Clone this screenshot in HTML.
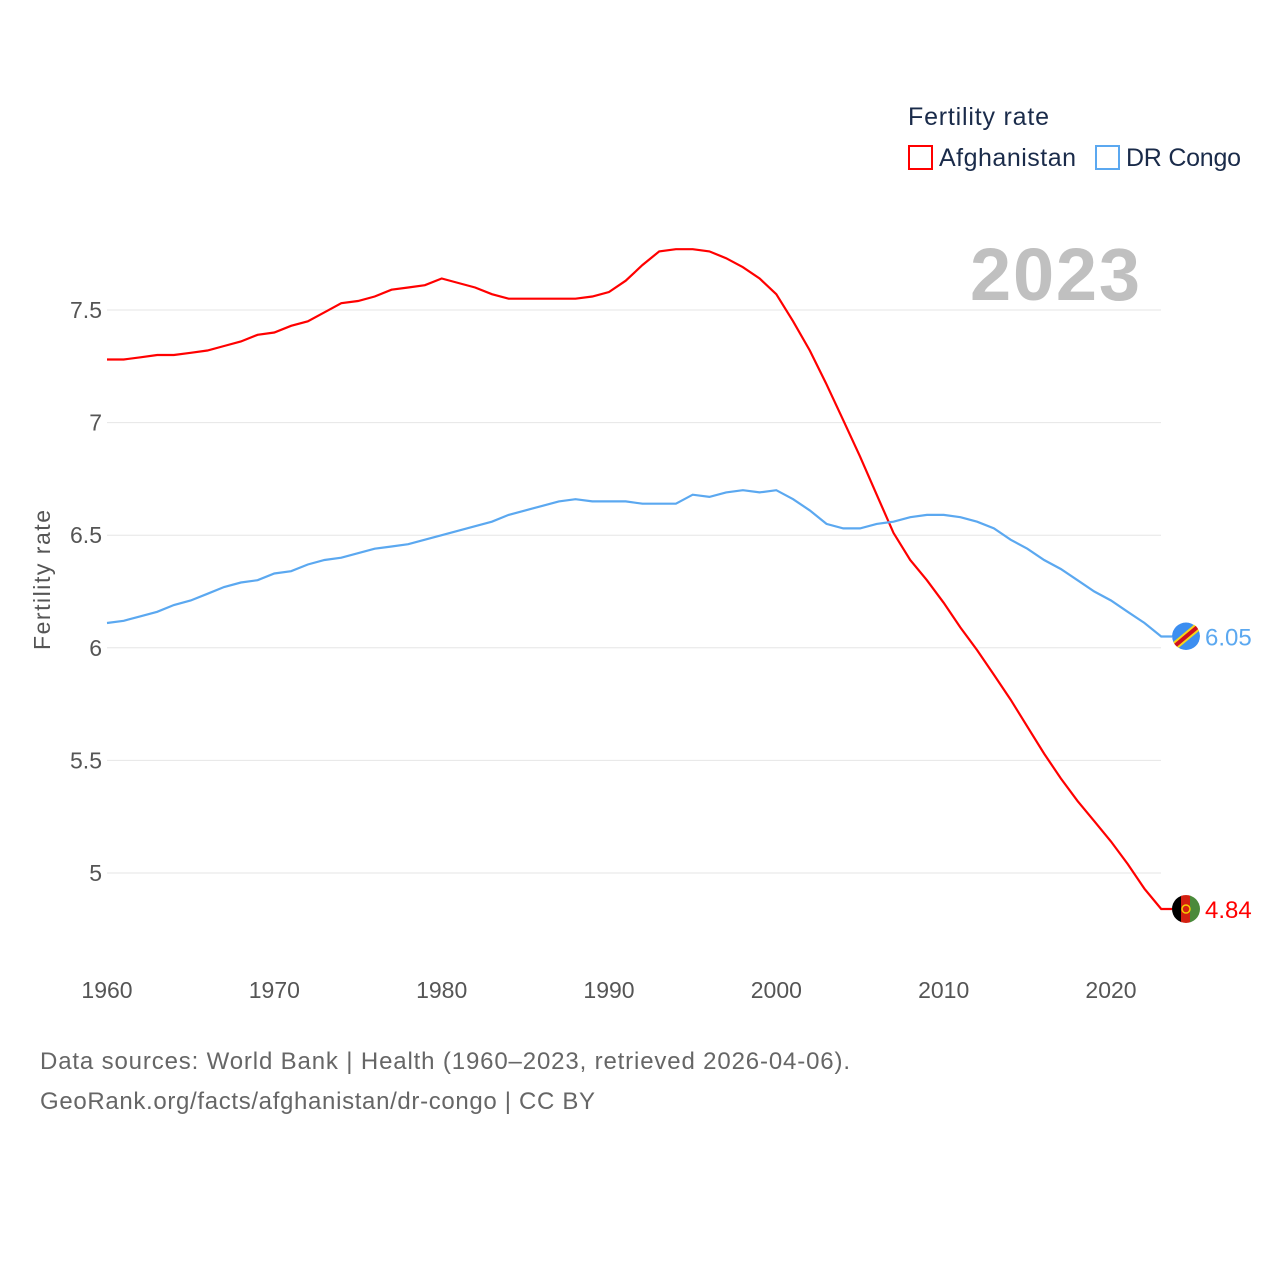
<!DOCTYPE html>
<html><head><meta charset="utf-8"><style>
body{margin:0;background:#fff;}
svg text{font-family:"Liberation Sans",sans-serif;}
</style></head><body>
<svg id="chart" width="1280" height="1280" viewBox="0 0 1280 1280">
<defs>
<clipPath id="cA"><circle cx="1186" cy="909" r="14"/></clipPath>
<clipPath id="cC"><circle cx="1186" cy="636" r="14"/></clipPath>
</defs>
<text x="908" y="125" font-size="25" fill="#1a2b4a" textLength="141">Fertility rate</text>
<rect x="909" y="146" width="23" height="23" fill="none" stroke="#ff0000" stroke-width="2"/>
<text x="939" y="166" font-size="25" fill="#1a2b4a" textLength="137">Afghanistan</text>
<rect x="1096" y="146" width="23" height="23" fill="none" stroke="#5ba8f0" stroke-width="2"/>
<text x="1126" y="166" font-size="25" fill="#1a2b4a" textLength="115">DR Congo</text>
<text x="1140" y="300" font-size="74" font-weight="bold" fill="#c0c0c0" text-anchor="end" textLength="170">2023</text>
<g id="grid"></g><g id="yticks"></g><g id="xticks"></g><g id="lines"></g>
<text transform="translate(50,580) rotate(-90)" font-size="23" fill="#555" text-anchor="middle" textLength="140">Fertility rate</text>
<text x="40" y="1069" font-size="24" fill="#666" textLength="810">Data sources: World Bank | Health (1960–2023, retrieved 2026-04-06).</text>
<text x="40" y="1109" font-size="24" fill="#666" textLength="555">GeoRank.org/facts/afghanistan/dr-congo | CC BY</text>
</svg>
<script>
const years=[];for(let y=1960;y<=2023;y++)years.push(y);
const afghanistan=[7.28,7.28,7.29,7.30,7.30,7.31,7.32,7.34,7.36,7.39,7.40,7.43,7.45,7.49,7.53,7.54,7.56,7.59,7.60,7.61,7.64,7.62,7.60,7.57,7.55,7.55,7.55,7.55,7.55,7.56,7.58,7.63,7.70,7.76,7.77,7.77,7.76,7.73,7.69,7.64,7.57,7.45,7.32,7.17,7.01,6.85,6.68,6.51,6.39,6.30,6.20,6.09,5.99,5.88,5.77,5.65,5.53,5.42,5.32,5.23,5.14,5.04,4.93,4.84];
const drCongo=[6.11,6.12,6.14,6.16,6.19,6.21,6.24,6.27,6.29,6.30,6.33,6.34,6.37,6.39,6.40,6.42,6.44,6.45,6.46,6.48,6.50,6.52,6.54,6.56,6.59,6.61,6.63,6.65,6.66,6.65,6.65,6.65,6.64,6.64,6.64,6.68,6.67,6.69,6.70,6.69,6.70,6.66,6.61,6.55,6.53,6.53,6.55,6.56,6.58,6.59,6.59,6.58,6.56,6.53,6.48,6.44,6.39,6.35,6.30,6.25,6.21,6.16,6.11,6.05];
const yTicks=[5,5.5,6,6.5,7,7.5];
const yTickLabels=["5","5.5","6","6.5","7","7.5"];
const xTicks=[1960,1970,1980,1990,2000,2010,2020];
const NS="http://www.w3.org/2000/svg";
const X=y=>107+(y-1960)*1004/60;
const Y=v=>873-(v-5)*563/2.5;
function mk(t,a,p){const e=document.createElementNS(NS,t);for(const k in a)e.setAttribute(k,a[k]);p.appendChild(e);return e;}
const grid=document.getElementById('grid'),yt=document.getElementById('yticks'),xt=document.getElementById('xticks'),ln=document.getElementById('lines');
yTicks.forEach((v,i)=>{
 const l=mk('line',{x1:107,x2:1161,y1:Y(v),y2:Y(v),stroke:'#e6e6e6','stroke-width':1},grid);
 
 
 const t=mk('text',{x:102,y:Y(v)+8,'font-size':23,fill:'#555','text-anchor':'end'},yt);t.textContent=yTickLabels[i];
 
 
});
xTicks.forEach(v=>{
 const t=mk('text',{x:X(v),y:998,'font-size':23,fill:'#555','text-anchor':'middle'},xt);t.textContent=v;
 
 
});
function line(vals,col,name,flag){
 const last=vals[vals.length-1];
 const d=vals.map((v,i)=>(i?'L':'M')+X(years[i]).toFixed(1)+','+Y(v).toFixed(1)).join('')+'L1172,'+Y(last).toFixed(1);
 const p=mk('path',{d:d,fill:'none',stroke:col,'stroke-width':2.2},ln);
 
 
 const g=mk('g',{},ln);
 
 
 const cy=Y(last);
 if(flag==='af'){
  mk('rect',{x:1172,y:cy-14,width:10,height:28,fill:'#000'},g);
  mk('rect',{x:1181,y:cy-14,width:10,height:28,fill:'#d32011'},g);
  mk('rect',{x:1190,y:cy-14,width:10,height:28,fill:'#4a8a3a'},g);
  mk('circle',{cx:1186,cy:cy,r:4,fill:'none',stroke:'#f5d000','stroke-width':1.5},g);
 }else{
  mk('circle',{cx:1186,cy:cy,r:14,fill:'#3c8ef0'},g);
  mk('line',{x1:1174,y1:cy+10,x2:1198,y2:cy-10,stroke:'#f7d618','stroke-width':8},g);
  mk('line',{x1:1174,y1:cy+10,x2:1198,y2:cy-10,stroke:'#ce1021','stroke-width':4},g);
 }
 g.setAttribute('clip-path','url(#'+(flag==='af'?'cA':'cC')+')');
 const t=mk('text',{x:1205,y:cy+9,'font-size':24,fill:col},ln);t.textContent=last.toFixed(2);
 
 
}
line(afghanistan,'#ff0000','afghanistan','af');
line(drCongo,'#5ba8f0','dr-congo','cd');
</script>
</body></html>
